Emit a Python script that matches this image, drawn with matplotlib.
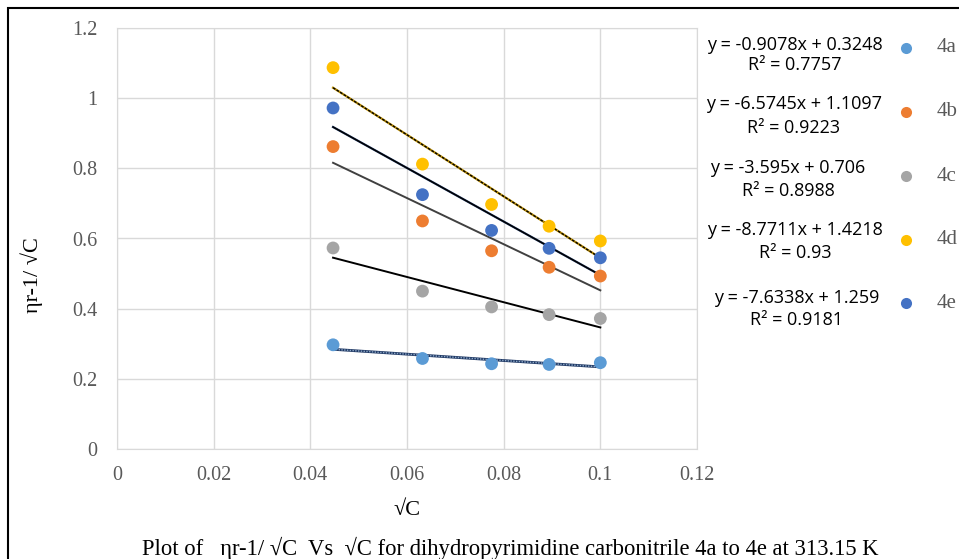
import matplotlib
matplotlib.use("Agg")
import matplotlib.pyplot as plt
from matplotlib.patches import Rectangle
from matplotlib.lines import Line2D
import numpy as np

# sqrt(C) values
sqrt_c = [0.0447, 0.0632, 0.0775, 0.0894, 0.1000]

series_names = ["4a", "4b", "4c", "4d", "4e"]
y_4a = [0.297, 0.258, 0.243, 0.241, 0.246]
y_4b = [0.862, 0.650, 0.565, 0.518, 0.493]
y_4c = [0.573, 0.450, 0.405, 0.383, 0.372]
y_4d = [1.087, 0.812, 0.697, 0.635, 0.593]
y_4e = [0.972, 0.725, 0.623, 0.572, 0.545]

# linear trendline coefficients (slope, intercept, R^2)
slopes = [-0.9078, -6.5745, -3.595, -8.7711, -7.6338]
intercepts = [0.3248, 1.1097, 0.706, 1.4218, 1.259]
r_squared = ["0.7757", "0.9223", "0.8988", "0.93", "0.9181"]
eq_texts = ["y = -0.9078x + 0.3248", "y = -6.5745x + 1.1097", "y = -3.595x + 0.706",
            "y = -8.7711x + 1.4218", "y = -7.6338x + 1.259"]

colors = ["#5B9BD5", "#ED7D31", "#A5A5A5", "#FFC000", "#4472C4"]
all_y = [y_4a, y_4b, y_4c, y_4d, y_4e]

W, H = 959, 559
fig = plt.figure(figsize=(W / 100, H / 100), dpi=100)

# outer frame
fig.patches.append(Rectangle((8 / W, -0.1), 1.2, 1 - 8 / H + 0.1, transform=fig.transFigure,
                             fill=False, edgecolor="black", linewidth=1.5))

ax = fig.add_axes([117 / W, 1 - 449 / H, (697 - 117) / W, (449 - 28) / H])
ax.set_xlim(0, 0.12)
ax.set_ylim(0, 1.2)
ax.set_xticks(np.arange(0, 0.121, 0.02))
ax.set_yticks(np.arange(0, 1.21, 0.2))
ax.set_xticklabels(["0", "0.02", "0.04", "0.06", "0.08", "0.1", "0.12"])
ax.set_yticklabels(["0", "0.2", "0.4", "0.6", "0.8", "1", "1.2"])
ax.grid(True, color="#D9D9D9", linewidth=1)
ax.set_axisbelow(True)
for s in ax.spines.values():
    s.set_color("#D9D9D9")
ax.tick_params(axis="x", length=0, pad=12, labelsize=14.5, labelcolor="#595959")
ax.tick_params(axis="y", length=0, pad=14, labelsize=14.5, labelcolor="#595959")
for lab in ax.get_xticklabels() + ax.get_yticklabels():
    lab.set_family("Liberation Serif")

# trendlines
x0, x1 = min(sqrt_c), max(sqrt_c)
xs = np.array([x0, x1])
for i in range(5):
    yl = slopes[i] * xs + intercepts[i]
    if i == 0:
        ax.plot(xs, yl, color="#1F3864", lw=2.0, zorder=2)
        ax.plot(xs, yl, color="#8EA9C8", lw=1.0, ls=(0, (1, 1)), zorder=2)
    elif i == 1:
        ax.plot(xs, yl, color="#404040", lw=1.4, zorder=2)
    elif i == 2:
        ax.plot(xs, yl, color="black", lw=1.4, zorder=2)
    elif i == 3:
        ax.plot(xs, yl, color="#BF9000", lw=1.6, zorder=2)
        ax.plot(xs, yl, color="black", lw=1.0, ls=(0, (2, 1)), zorder=2)
    else:
        ax.plot(xs, yl, color="#1F3864", lw=1.6, zorder=2)
        ax.plot(xs, yl, color="black", lw=1.0, zorder=2)

for i in range(5):
    ax.scatter(sqrt_c, all_y[i], s=85, color=colors[i], edgecolors="none", zorder=3)

ax.set_xlabel("√C", family="Liberation Serif", fontsize=16, labelpad=12)
fig.text(32 / W, 1 - 275 / H, "ηr-1/ √C", rotation=90, ha="center", va="center",
         family="Liberation Serif", fontsize=16, color="black")

# trendline equations and legend on the right
eq_y = [45, 104, 168, 230, 298]
r2_y = [65, 128, 191, 253, 320]
eq_x = [795, 794, 788, 795, 797]
mark_y = [48, 112, 176, 240, 303]
for i in range(5):
    fig.text(eq_x[i] / W, 1 - eq_y[i] / H, eq_texts[i], ha="center", va="center",
             family="Open Sans", fontsize=13, color="black")
    fig.text(eq_x[i] / W, 1 - r2_y[i] / H, "R² = " + r_squared[i], ha="center", va="center",
             family="Open Sans", fontsize=13, color="black")
    fig.add_artist(Line2D([906 / W], [1 - mark_y[i] / H], marker="o", markersize=8,
                          color=colors[i], markeredgecolor="none", linestyle="none",
                          transform=fig.transFigure))
    fig.text(937 / W, 1 - mark_y[i] / H, series_names[i], ha="left", va="center",
             family="Liberation Serif", fontsize=15, color="#595959")

fig.text(510 / W, 1 - 548 / H,
         "Plot of   ηr-1/ √C  Vs  √C for dihydropyrimidine carbonitrile 4a to 4e at 313.15 K",
         ha="center", va="center", family="Liberation Serif", fontsize=16.3, color="black")

fig.savefig("out.png", dpi=100)
